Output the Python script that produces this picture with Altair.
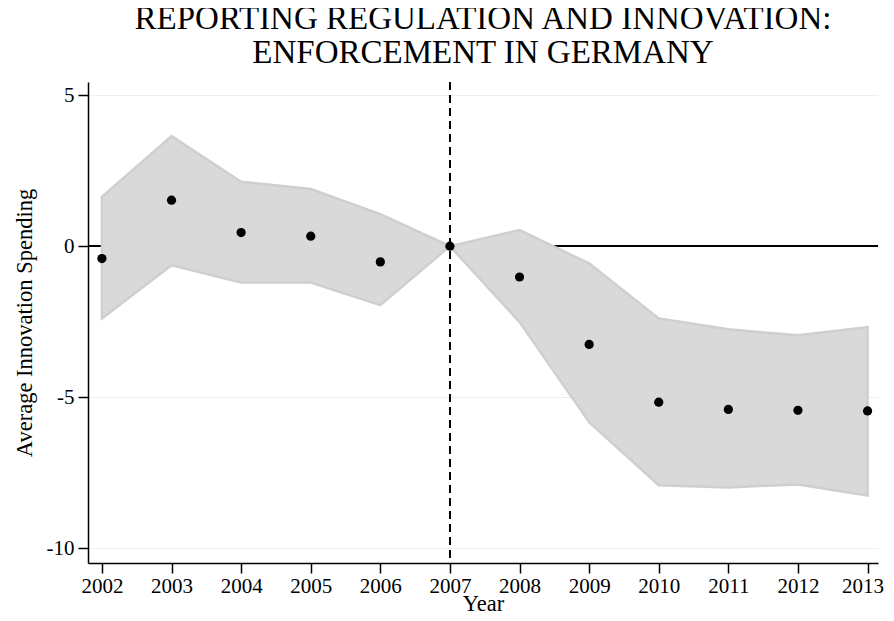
import altair as alt
import pandas as pd

years = [2002, 2003, 2004, 2005, 2006, 2007, 2008, 2009, 2010, 2011, 2012, 2013]
coef = [-0.41, 1.52, 0.45, 0.33, -0.52, 0.0, -1.02, -3.25, -5.16, -5.40, -5.43, -5.45]
upper = [1.63, 3.64, 2.13, 1.89, 1.06, 0.0, 0.53, -0.57, -2.39, -2.75, -2.95, -2.68]
lower = [-2.39, -0.63, -1.20, -1.20, -1.95, 0.0, -2.51, -5.82, -7.91, -7.98, -7.88, -8.25]
y_ticks = [5, 0, -5, -10]

title_lines = ["REPORTING REGULATION AND INNOVATION:", "ENFORCEMENT IN GERMANY"]
x_title = "Year"
y_title = "Average Innovation Spending"

df = pd.DataFrame({"year": years, "coef": coef, "upper": upper, "lower": lower})

FONT = "Liberation Serif"

xs = alt.Scale(domain=[2001.8, 2013.15], nice=False, zero=False)
ys = alt.Scale(domain=[-10.48, 5.43], nice=False, zero=False)

x_axis = alt.Axis(
    values=years, format="d", title=x_title, grid=False,
    tickSize=10, labelPadding=2, titlePadding=-4,
    labelOffset={"condition": {"test": "datum.value == 2013", "value": -5}, "value": 0},
)
y_axis = alt.Axis(
    values=y_ticks, title=y_title, grid=True, gridColor="#e8f0f2", gridWidth=1.2,
    tickSize=10, labelPadding=4, titlePadding=10,
    labelExpr="datum.value < 0 ? '-' + abs(datum.value) : '' + datum.value",
)

base = alt.Chart(df)

zero = base.mark_rule(color="black", strokeWidth=1.5).encode(y=alt.datum(0, scale=ys, axis=y_axis))

band = base.mark_area(fill="#d9d9d9", stroke="#cfcfcf", strokeWidth=2.5, strokeJoin="miter").encode(
    x=alt.X("year:Q", scale=xs, axis=x_axis),
    y=alt.Y("upper:Q", scale=ys, axis=y_axis),
    y2="lower:Q",
)

vline = base.mark_rule(color="black", strokeWidth=1.8, strokeDash=[8, 5]).encode(
    x=alt.datum(2007, scale=xs)
)

pts = base.mark_circle(color="black", opacity=1, size=85).encode(
    x=alt.X("year:Q", scale=xs),
    y=alt.Y("coef:Q", scale=ys),
)

chart = alt.layer(zero, band, vline, pts).properties(
    width=790,
    height=481,
    title=alt.TitleParams(
        text=title_lines, font=FONT, fontSize=33, fontWeight="normal",
        color="black", anchor="middle", offset=11, lineHeight=34,
    ),
    autosize=alt.AutoSizeParams(type="none"),
    padding={"left": 80, "top": 74, "right": 8, "bottom": 50},
).configure_view(stroke=None).configure_axis(
    domainColor="black", domainWidth=1.5, tickColor="black", tickWidth=1.5,
    labelFont=FONT, titleFont=FONT, labelFontSize=21, titleFontSize=22.5,
    labelColor="black", titleColor="black", titleFontWeight="normal",
)

chart.save("out.html", embed_options={"renderer": "svg", "actions": False})
